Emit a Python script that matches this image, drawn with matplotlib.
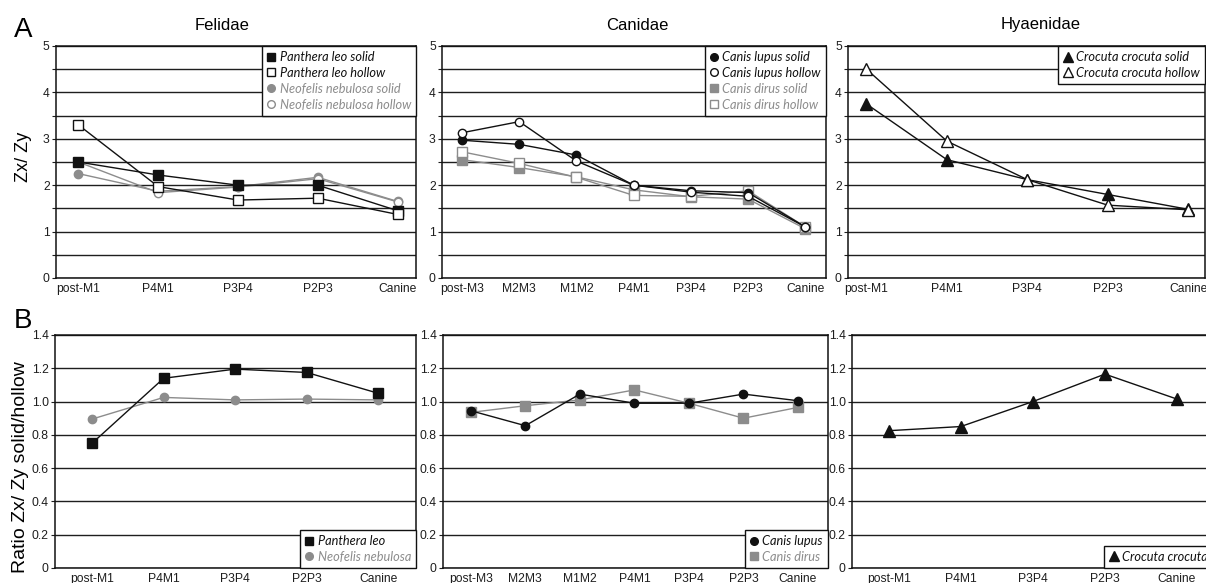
import matplotlib

matplotlib.use("Agg")
import matplotlib.pyplot as plt  # noqa: E402
from matplotlib.lines import Line2D  # noqa: E402
from matplotlib.ticker import FuncFormatter, MultipleLocator  # noqa: E402

plt.rcParams["font.family"] = ["Liberation Sans", "DejaVu Sans"]

# ── data ─────────────────────────────────────────────────────────────────────
fel_cats = ["post-M1", "P4M1", "P3P4", "P2P3", "Canine"]
can_cats = ["post-M3", "M2M3", "M1M2", "P4M1", "P3P4", "P2P3", "Canine"]
hya_cats = ["post-M1", "P4M1", "P3P4", "P2P3", "Canine"]

# A: Zx/Zy
leo_solid = [2.50, 2.22, 2.00, 2.00, 1.45]
leo_hollow = [3.30, 1.97, 1.68, 1.72, 1.37]
neo_solid = [2.25, 1.87, 1.97, 2.17, 1.65]
neo_hollow = [2.50, 1.84, 1.96, 2.14, 1.64]

lupus_solid = [2.97, 2.88, 2.65, 2.00, 1.88, 1.84, 1.10]
lupus_hollow = [3.13, 3.37, 2.52, 2.00, 1.85, 1.76, 1.10]
dirus_solid = [2.55, 2.38, 2.18, 1.90, 1.75, 1.70, 1.06]
dirus_hollow = [2.72, 2.47, 2.17, 1.78, 1.76, 1.88, 1.10]

croc_solid = [3.75, 2.55, 2.12, 1.80, 1.48]
croc_hollow = [4.50, 2.95, 2.12, 1.57, 1.47]

# B: ratio solid/hollow
leo_ratio = [0.75, 1.14, 1.195, 1.175, 1.05]
neo_ratio = [0.895, 1.025, 1.01, 1.015, 1.01]
lupus_ratio = [0.945, 0.855, 1.045, 0.99, 0.99, 1.045, 1.005]
dirus_ratio = [0.935, 0.975, 1.01, 1.07, 0.99, 0.90, 0.965]
croc_ratio = [0.825, 0.85, 1.00, 1.165, 1.015]

BLK = "#111111"
GRY = "#8c8c8c"
W, H = 1206, 583


def pos(x0, y0, x1, y1):
    # pixel box -> figure fraction
    return [x0 / W, 1 - y1 / H, (x1 - x0) / W, (y1 - y0) / H]


def draw(ax, cats, series, xlim, ylim, step, minor, fmt, leg_loc):
    handles = []
    for label, vals, mk, col, filled, ms in series:
        fc = col if filled else "white"
        ax.plot(range(len(vals)), vals, color=col, lw=1.0, marker=mk, ms=ms,
                mfc=fc, mec=col, mew=1.0, zorder=3 if col == BLK else 2)
        handles.append(Line2D([], [], ls="none", marker=mk, ms=ms - 0.5, mfc=fc,
                              mec=col, mew=1.0, label=label))
    ax.set_xlim(*xlim)
    ax.set_ylim(*ylim)
    ax.set_xticks(range(len(cats)))
    ax.set_xticklabels(cats)
    ax.yaxis.set_major_locator(MultipleLocator(step))
    ax.yaxis.set_minor_locator(MultipleLocator(minor))
    ax.yaxis.set_major_formatter(FuncFormatter(fmt))
    ax.grid(axis="y", which="both", color="#1e1e1e", lw=1.0)
    ax.set_axisbelow(True)
    ax.tick_params(axis="y", which="both", direction="out", length=3,
                   width=0.8, pad=1.5, labelsize=8.7, colors="#1e1e1e")
    ax.tick_params(axis="x", length=0, pad=3.5, labelsize=8.7, colors="#1e1e1e")
    for s in ax.spines.values():
        s.set_color(BLK)
        s.set_linewidth(1.1)
    leg = ax.legend(handles=handles, loc=leg_loc, borderaxespad=0,
                    fancybox=False, edgecolor=BLK, framealpha=1,
                    handlelength=0.7, handletextpad=0.3, borderpad=0.4,
                    labelspacing=0.3,
                    prop={"family": "Lato", "style": "italic", "size": 9.2})
    leg.get_frame().set_linewidth(1.0)
    for t, h in zip(leg.get_texts(), handles):
        t.set_color(h.get_markeredgecolor())


fig = plt.figure(figsize=(W / 100, H / 100), dpi=100)

fmt_a = lambda v, _: f"{v:.0f}"  # noqa: E731
fmt_b = lambda v, _: "0" if abs(v) < 1e-9 else f"{v:.1f}"  # noqa: E731

# ── A row ──
ax = fig.add_axes(pos(56, 46, 416, 278))
draw(ax, fel_cats, [
    ("Panthera leo solid", leo_solid, "s", BLK, True, 6.5),
    ("Panthera leo hollow", leo_hollow, "s", BLK, False, 6.5),
    ("Neofelis nebulosa solid", neo_solid, "o", GRY, True, 6),
    ("Neofelis nebulosa hollow", neo_hollow, "o", GRY, False, 6),
], (-0.28, 4.23), (0, 5), 1, 0.5, fmt_a, "upper right")

ax = fig.add_axes(pos(442, 46, 826, 278))
draw(ax, can_cats, [
    ("Canis lupus solid", lupus_solid, "o", BLK, True, 6),
    ("Canis lupus hollow", lupus_hollow, "o", BLK, False, 6),
    ("Canis dirus solid", dirus_solid, "s", GRY, True, 6.5),
    ("Canis dirus hollow", dirus_hollow, "s", GRY, False, 6.5),
], (-0.35, 6.36), (0, 5), 1, 0.5, fmt_a, "upper right")

ax = fig.add_axes(pos(848, 46, 1205, 278))
draw(ax, hya_cats, [
    ("Crocuta crocuta solid", croc_solid, "^", BLK, True, 8),
    ("Crocuta crocuta hollow", croc_hollow, "^", BLK, False, 8),
], (-0.23, 4.21), (0, 5), 1, 0.5, fmt_a, "upper right")

# ── B row ──
ax = fig.add_axes(pos(55, 335, 416, 568))
draw(ax, fel_cats, [
    ("Panthera leo", leo_ratio, "s", BLK, True, 6.5),
    ("Neofelis nebulosa", neo_ratio, "o", GRY, True, 6),
], (-0.52, 4.53), (0, 1.4), 0.2, 0.2, fmt_b, "lower right")

ax = fig.add_axes(pos(443, 335, 828, 568))
draw(ax, can_cats, [
    ("Canis lupus", lupus_ratio, "o", BLK, True, 6),
    ("Canis dirus", dirus_ratio, "s", GRY, True, 6.5),
], (-0.51, 6.55), (0, 1.4), 0.2, 0.2, fmt_b, "lower right")

ax = fig.add_axes(pos(852, 335, 1213, 568))
draw(ax, hya_cats, [
    ("Crocuta crocuta", croc_ratio, "^", BLK, True, 8),
], (-0.51, 4.5), (0, 1.4), 0.2, 0.2, fmt_b, "lower right")

# titles, axis titles and panel letters
fig.text(222 / W, 1 - 25 / H, "Felidae", ha="center", va="center", fontsize=12)
fig.text(637 / W, 1 - 25 / H, "Canidae", ha="center", va="center", fontsize=12)
fig.text(1041 / W, 1 - 25 / H, "Hyaenidae", ha="center", va="center", fontsize=12)
fig.text(23 / W, 1 - 30 / H, "A", ha="center", va="center", fontsize=20)
fig.text(23 / W, 1 - 321 / H, "B", ha="center", va="center", fontsize=20)
fig.text(24 / W, 1 - 157 / H, "Zx/ Zy", ha="center", va="center",
         rotation=90, fontsize=13)
fig.text(21 / W, 1 - 467 / H, "Ratio Zx/ Zy solid/hollow", ha="center",
         va="center", rotation=90, fontsize=14)

fig.savefig("out.png", dpi=100)
